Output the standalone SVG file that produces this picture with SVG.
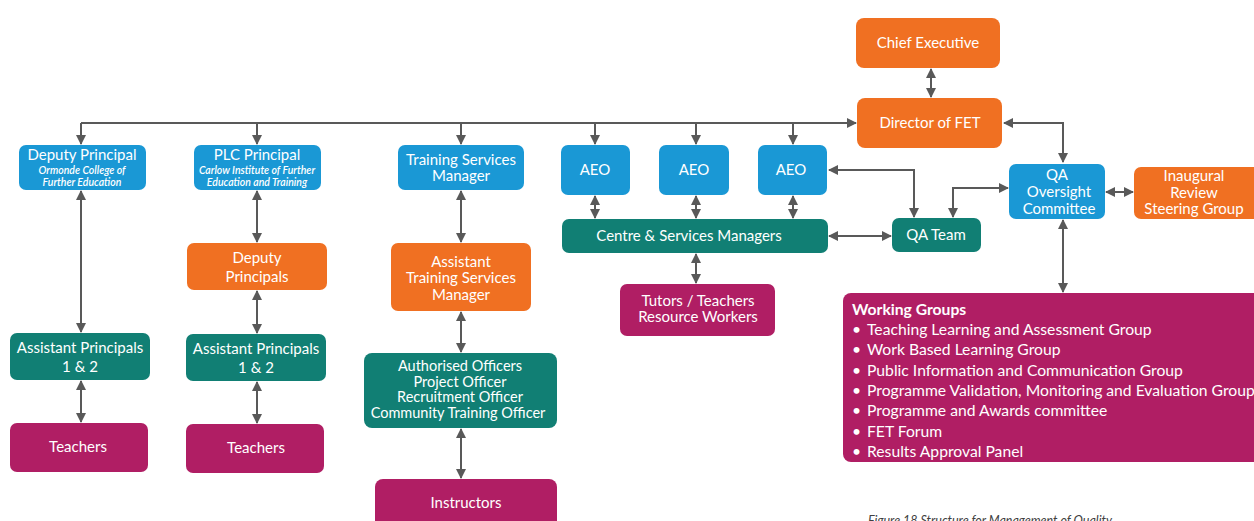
<svg xmlns="http://www.w3.org/2000/svg" width="1254" height="521" viewBox="0 0 1254 521">
<defs>
<style>
.o{fill:#F07022}.b{fill:#1A98D5}.t{fill:#117F74}.m{fill:#B01E64}
text{font-family:Lato,"Open Sans","Liberation Sans",sans-serif;fill:#fff;text-anchor:middle}
.l{font-size:15px}.s{font-size:10.5px;font-style:italic;font-weight:600}
.ao{font-size:14.5px}
.c path,.c line{stroke:#595959;stroke-width:2;fill:none}
.wg text{text-anchor:start;font-size:15.7px}
</style>
<marker id="a" viewBox="0 0 10 10" refX="9" refY="5" markerWidth="5" markerHeight="5" orient="auto-start-reverse" markerUnits="strokeWidth">
<path d="M0,0L10,5L0,10z" fill="#595959"/>
</marker>
</defs>
<rect width="1254" height="521" fill="#fff"/>
<g class="c">
<line x1="931" y1="69" x2="931" y2="97" marker-start="url(#a)" marker-end="url(#a)"/>
<line x1="81" y1="123" x2="856" y2="123" marker-end="url(#a)"/>
<line x1="81" y1="123" x2="81" y2="144" marker-end="url(#a)"/>
<line x1="257" y1="123" x2="257" y2="144" marker-end="url(#a)"/>
<line x1="461" y1="123" x2="461" y2="144" marker-end="url(#a)"/>
<line x1="595" y1="123" x2="595" y2="144" marker-end="url(#a)"/>
<line x1="696" y1="123" x2="696" y2="144" marker-end="url(#a)"/>
<line x1="793" y1="123" x2="793" y2="144" marker-end="url(#a)"/>
<path d="M1004,123H1063V162" marker-start="url(#a)" marker-end="url(#a)"/>
<line x1="81" y1="191" x2="81" y2="332" marker-start="url(#a)" marker-end="url(#a)"/>
<line x1="81" y1="381" x2="81" y2="422" marker-start="url(#a)" marker-end="url(#a)"/>
<line x1="257" y1="191" x2="257" y2="242" marker-start="url(#a)" marker-end="url(#a)"/>
<line x1="257" y1="291" x2="257" y2="333" marker-start="url(#a)" marker-end="url(#a)"/>
<line x1="257" y1="382" x2="257" y2="423" marker-start="url(#a)" marker-end="url(#a)"/>
<line x1="461" y1="191" x2="461" y2="242" marker-start="url(#a)" marker-end="url(#a)"/>
<line x1="461" y1="312" x2="461" y2="352" marker-start="url(#a)" marker-end="url(#a)"/>
<line x1="461" y1="429" x2="461" y2="478" marker-start="url(#a)" marker-end="url(#a)"/>
<line x1="595" y1="196" x2="595" y2="218" marker-start="url(#a)" marker-end="url(#a)"/>
<line x1="696" y1="196" x2="696" y2="218" marker-start="url(#a)" marker-end="url(#a)"/>
<line x1="793" y1="196" x2="793" y2="218" marker-start="url(#a)" marker-end="url(#a)"/>
<line x1="696" y1="254" x2="696" y2="283" marker-start="url(#a)" marker-end="url(#a)"/>
<line x1="829" y1="236" x2="891" y2="236" marker-start="url(#a)" marker-end="url(#a)"/>
<path d="M829,170H914V217" marker-start="url(#a)" marker-end="url(#a)"/>
<path d="M953,217V188H1008" marker-start="url(#a)" marker-end="url(#a)"/>
<line x1="1106" y1="192" x2="1133" y2="192" marker-start="url(#a)" marker-end="url(#a)"/>
<line x1="1063" y1="220" x2="1063" y2="292" marker-start="url(#a)" marker-end="url(#a)"/>
</g>
<g id="chief-executive"><rect class="o" x="856" y="18" width="144" height="50" rx="8"/><text class="l" x="928" y="48">Chief Executive</text></g>
<g id="director-fet"><rect class="o" x="857" y="98" width="145" height="50" rx="8"/><text class="l" x="930" y="128">Director of FET</text></g>
<g id="deputy-principal"><rect class="b" x="19" y="145" width="127" height="45" rx="7"/><text class="l" x="82" y="160">Deputy Principal</text><text class="s" x="82" y="174">Ormonde College of</text><text class="s" x="82" y="186">Further Education</text></g>
<g id="plc-principal"><rect class="b" x="194" y="145" width="127" height="45" rx="7"/><text class="l" x="257" y="160">PLC Principal</text><text class="s" x="257" y="174">Carlow Institute of Further</text><text class="s" x="257" y="186">Education and Training</text></g>
<g id="training-services-manager"><rect class="b" x="398" y="145" width="126" height="45" rx="7"/><text class="l" x="461" y="165">Training Services</text><text class="l" x="461" y="181">Manager</text></g>
<g id="aeo-1"><rect class="b" x="561" y="145" width="69" height="50" rx="7"/><text class="l" x="595" y="175">AEO</text></g>
<g id="aeo-2"><rect class="b" x="659" y="145" width="70" height="50" rx="7"/><text class="l" x="694" y="175">AEO</text></g>
<g id="aeo-3"><rect class="b" x="758" y="145" width="69" height="50" rx="7"/><text class="l" x="791" y="175">AEO</text></g>
<g id="qa-oversight"><rect class="b" x="1009" y="164" width="96" height="55" rx="7"/><text class="l" x="1057" y="180">QA</text><text class="l" x="1059" y="197">Oversight</text><text class="l" x="1059" y="214">Committee</text></g>
<g id="inaugural-review"><rect class="o" x="1134" y="167" width="128" height="52" rx="7"/><text class="l" x="1194" y="181">Inaugural</text><text class="l" x="1194" y="198">Review</text><text class="l" x="1194" y="214">Steering Group</text></g>
<g id="qa-team"><rect class="t" x="892" y="218" width="89" height="34" rx="7"/><text class="l" x="936" y="240">QA Team</text></g>
<g id="centre-services"><rect class="t" x="562" y="219" width="266" height="34" rx="7"/><text class="l" x="689" y="241">Centre &amp; Services Managers</text></g>
<g id="tutors"><rect class="m" x="620" y="284" width="155" height="52" rx="7"/><text class="l" x="698" y="306">Tutors / Teachers</text><text class="l" x="698" y="322">Resource Workers</text></g>
<g id="deputy-principals"><rect class="o" x="187" y="243" width="140" height="47" rx="7"/><text class="l" x="257" y="263">Deputy</text><text class="l" x="257" y="282">Principals</text></g>
<g id="asst-tsm"><rect class="o" x="391" y="243" width="140" height="68" rx="7"/><text class="l" x="461" y="266.5">Assistant</text><text class="l" x="461" y="283">Training Services</text><text class="l" x="461" y="299.5">Manager</text></g>
<g id="authorised-officers"><rect class="t" x="364" y="353" width="193" height="75" rx="8"/><text class="ao" x="460" y="371">Authorised Officers</text><text class="ao" x="460" y="386.5">Project Officer</text><text class="ao" x="460" y="402">Recruitment Officer</text><text class="ao" x="458" y="417.5">Community Training Officer</text></g>
<g id="instructors"><rect class="m" x="375" y="479" width="182" height="50" rx="8"/><text class="l" x="466" y="508">Instructors</text></g>
<g id="asst-principals-1"><rect class="t" x="10" y="333" width="140" height="47" rx="7"/><text class="l" x="80" y="353">Assistant Principals</text><text class="l" x="80" y="372">1 &amp; 2</text></g>
<g id="asst-principals-2"><rect class="t" x="186" y="334" width="140" height="47" rx="7"/><text class="l" x="256" y="354">Assistant Principals</text><text class="l" x="256" y="373">1 &amp; 2</text></g>
<g id="teachers-1"><rect class="m" x="10" y="423" width="138" height="49" rx="7"/><text class="l" x="78" y="452">Teachers</text></g>
<g id="teachers-2"><rect class="m" x="186" y="424" width="138" height="49" rx="7"/><text class="l" x="256" y="453">Teachers</text></g>
<g id="working-groups" class="wg"><rect class="m" x="843" y="293" width="430" height="169" rx="8"/>
<text x="852" y="315" font-weight="bold">Working Groups</text>
<text x="852" y="335">•</text><text x="867" y="335">Teaching Learning and Assessment Group</text>
<text x="852" y="355">•</text><text x="867" y="355">Work Based Learning Group</text>
<text x="852" y="376">•</text><text x="867" y="376">Public Information and Communication Group</text>
<text x="852" y="396">•</text><text x="867" y="396">Programme Validation, Monitoring and Evaluation Group</text>
<text x="852" y="416">•</text><text x="867" y="416">Programme and Awards committee</text>
<text x="852" y="437">•</text><text x="867" y="437">FET Forum</text>
<text x="852" y="457">•</text><text x="867" y="457">Results Approval Panel</text>
</g>
<text x="868" y="525" style="text-anchor:start;font-size:12.5px;font-style:italic;fill:#404040">Figure 18 Structure for Management of Quality</text>
</svg>
